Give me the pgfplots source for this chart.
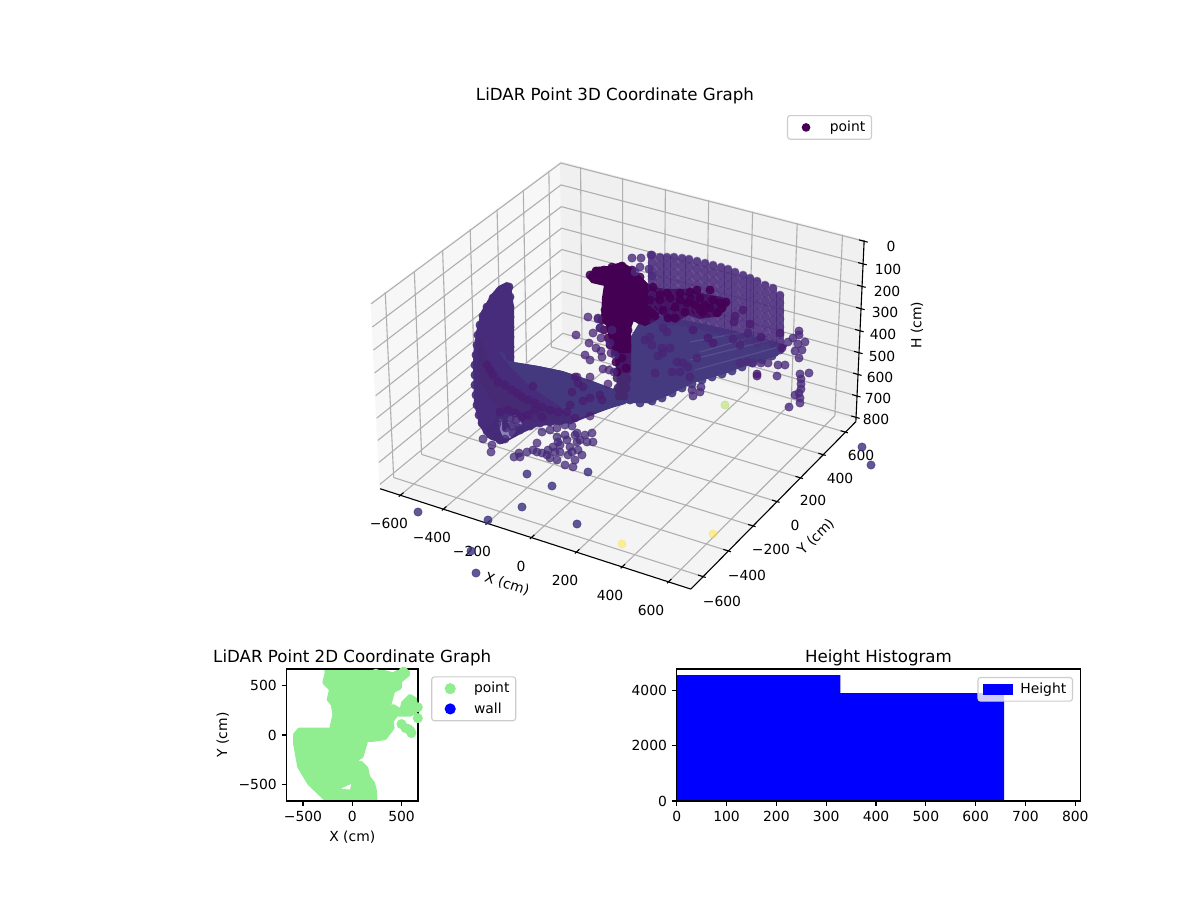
\documentclass[border=0pt]{standalone}
\usepackage{fontspec}
\setmainfont{DejaVu Sans}
\usepackage{pgfplots}
\pgfplotsset{compat=1.18}
% perspective of the 3D box: X, Y, H in cm -> position in the picture
\pgfmathdeclarefunction{pD}{3}{\pgfmathparse{10-(.3707*#1-.642*#2+.432*(400-#3))/1000}}
\pgfmathdeclarefunction{projx}{3}{\pgfmathparse{622.4+(2.2083*#1+1.275*#2)/pD(#1,#2,#3)}}
\pgfmathdeclarefunction{projy}{3}{\pgfmathparse{362.6-(-.6375*#1+1.104*#2+2.2289*(400-#3))/pD(#1,#2,#3)}}
\newcommand\seg[7]{\addplot[forget plot,#7] table[row sep=\\,x expr={projx(\thisrow{X},\thisrow{Y},\thisrow{Z})},y expr={projy(\thisrow{X},\thisrow{Y},\thisrow{Z})}] {X Y Z\\ #1 #2 #3\\ #4 #5 #6\\};}
\newcommand\pane[1]{\addplot[forget plot,#1] table[row sep=\\,x expr={projx(\thisrow{X},\thisrow{Y},\thisrow{Z})},y expr={projy(\thisrow{X},\thisrow{Y},\thisrow{Z})}]}
\newcommand\col[3]{\addplot[forget plot,vwall,opacity=.8,line width=.074in,line cap=round] coordinates {(#1,#2)(#1,#3)};}
\definecolor{gridc}{HTML}{B0B0B0}
\definecolor{lg}{HTML}{90EE90}
\definecolor{vtop}{HTML}{440154}
\definecolor{vwall}{HTML}{4B2C7C}
\definecolor{vout}{HTML}{38307C}
\definecolor{vlow}{HTML}{452A78}
\definecolor{vdark}{HTML}{4A1C72}
\definecolor{vup}{HTML}{482576}
\definecolor{vfan}{HTML}{45397F}
\definecolor{vyel}{HTML}{FDE725}
\definecolor{vgrn}{HTML}{A0DA39}
\definecolor{vwing}{HTML}{462C7A}
\definecolor{vband}{HTML}{44397F}
\definecolor{vsh}{HTML}{462A74}
\definecolor{vtow}{HTML}{46186A}
\definecolor{vtowb}{HTML}{46286F}
\definecolor{vlite}{HTML}{8C82B8}
\pgfplotsset{pts/.style 2 args={only marks,mark=*,mark size=3pt,forget plot,color=#1,mark options={solid,fill=#1,draw=#1,opacity=#2}},
 blob/.style={forget plot,fill=#1,draw=#1,line width=1.5pt,line join=round,mark=none},
 leg/.style={legend style={draw=black!20,rounded corners=2pt,fill=white,fill opacity=.8,text opacity=1,font=\fontsize{10.04}{12}\selectfont,line width=.8pt,inner xsep=2.5pt,inner ysep=2pt,row sep=1.5pt},legend cell align=left},
 dotimg/.style 2 args={legend image code/.code={\fill[#1,fill opacity=1,sharp corners] (.145in,0) circle (#2);\path (0,0) (.35in,0);}},
 num/.style={/pgf/number format/.cd,assume math mode=true,1000 sep={}}}
\begin{document}
\fontsize{10.04}{12}\selectfont
\begin{tikzpicture}
\path (0,0) rectangle (12in,9in);
\begin{axis}[at={(0,0)},anchor=south west,width=12in,height=9in,scale only axis,xmin=0,xmax=1200,ymin=0,ymax=900,y dir=reverse,axis lines=none,clip=false]
% panes
\pane{fill=black!3,draw=black!3,line width=1pt}{X Y Z\\ -695 -695 820\\ -695 695 820\\ -695 695 -4\\ -695 -695 -4\\ -695 -695 820\\};
\pane{fill=black!6,draw=black!6,line width=1pt}{X Y Z\\ -695 695 820\\ 695 695 820\\ 695 695 -4\\ -695 695 -4\\ -695 695 820\\};
\pane{fill=black!4.5,draw=black!4.5,line width=1pt}{X Y Z\\ -695 -695 820\\ 695 -695 820\\ 695 695 820\\ -695 695 820\\ -695 -695 820\\};
% grid
\pgfplotsinvokeforeach{-600,-400,-200,0,200,400,600}{
 \seg{#1}{-695}{820}{#1}{695}{820}{color=gridc,line width=.8pt}
 \seg{#1}{695}{820}{#1}{695}{-4}{color=gridc,line width=.8pt}
 \seg{695}{#1}{820}{-695}{#1}{820}{color=gridc,line width=.8pt}
 \seg{-695}{#1}{820}{-695}{#1}{-4}{color=gridc,line width=.8pt}
 \seg{#1}{-706}{820}{#1}{-673}{820}{color=black,line width=.8pt}
 \seg{673}{#1}{820}{706}{#1}{820}{color=black,line width=.8pt}
}
\pgfplotsinvokeforeach{0,100,200,300,400,500,600,700,800}{
 \seg{-695}{-695}{#1}{-695}{695}{#1}{color=gridc,line width=.8pt}
 \seg{-695}{695}{#1}{695}{695}{#1}{color=gridc,line width=.8pt}
 \seg{673}{695}{#1}{711}{695}{#1}{color=black,line width=.8pt}
}
% axis lines
\seg{-695}{-695}{820}{695}{-695}{820}{color=black,line width=.8pt}
\seg{695}{-695}{820}{695}{695}{820}{color=black,line width=.8pt}
\seg{695}{695}{820}{695}{695}{-4}{color=black,line width=.8pt}
% tick labels and axis names
\node at (axis cs:389,523) {−600};\node at (axis cs:432,537) {−400};\node at (axis cs:472,551) {−200};
\node at (axis cs:521,566) {0};\node at (axis cs:565,580) {200};\node at (axis cs:610,595) {400};\node at (axis cs:651,610) {600};
\node at (axis cs:722,601) {−600};\node at (axis cs:747,575) {−400};\node at (axis cs:771,549) {−200};
\node at (axis cs:795,525) {0};\node at (axis cs:813,500) {200};\node at (axis cs:840,478) {400};\node at (axis cs:861,455) {600};
\node at (axis cs:891,246) {0};\node at (axis cs:888,269) {100};\node at (axis cs:887,291) {200};\node at (axis cs:885,312) {300};\node at (axis cs:883,334) {400};
\node at (axis cs:882,356) {500};\node at (axis cs:880,377) {600};\node at (axis cs:878,398) {700};\node at (axis cs:876,419) {800};
\node[rotate=-18] at (axis cs:507,584) {X (cm)};
\node[rotate=45] at (axis cs:816,537) {Y (cm)};
\node[rotate=90] at (axis cs:917,325) {H (cm)};
\node at (axis cs:615,96) {\fontsize{12.05}{14}\selectfont LiDAR Point 3D Coordinate Graph};
% wall of columns on the right
\col{652}{255}{325}\col{660}{257}{325}\col{667}{257}{325}\col{674}{257}{325}\col{682}{258}{327}\col{689}{259}{328}\col{697}{261}{330}\col{705}{263}{332}\col{713}{265}{334}\col{721}{267}{336}\col{728}{269}{338}\col{735}{272}{340}\col{743}{275}{342}\col{750}{278}{344}\col{757}{281}{346}\col{765}{285}{348}\col{773}{288}{350}\col{780}{295}{345}
\addplot[pts={vwall}{.45}] coordinates {
(652,255)(652,263)(652,271)(652,279)(652,287)(652,295)(652,303)(652,311)(652,319)
(660,257)(660,265)(660,273)(660,281)(660,289)(660,297)(660,305)(660,313)(660,321)
(667,257)(667,265)(667,273)(667,281)(667,289)(667,297)(667,305)(667,313)(667,321)
(674,257)(674,265)(674,273)(674,281)(674,289)(674,297)(674,305)(674,313)(674,321)
(682,258)(682,266)(682,274)(682,282)(682,290)(682,298)(682,306)(682,314)(682,322)
(689,259)(689,267)(689,275)(689,283)(689,291)(689,299)(689,307)(689,315)(689,323)
(697,261)(697,269)(697,277)(697,285)(697,293)(697,301)(697,309)(697,317)(697,325)
(705,263)(705,271)(705,279)(705,287)(705,295)(705,303)(705,311)(705,319)(705,327)
(713,265)(713,273)(713,281)(713,289)(713,297)(713,305)(713,313)(713,321)(713,329)
(721,267)(721,275)(721,283)(721,291)(721,299)(721,307)(721,315)(721,323)(721,331)
(728,269)(728,277)(728,285)(728,293)(728,301)(728,309)(728,317)(728,325)(728,333)
(735,272)(735,280)(735,288)(735,296)(735,304)(735,312)(735,320)(735,328)(735,335)
(743,275)(743,283)(743,291)(743,299)(743,307)(743,315)(743,323)(743,331)(743,338)
(750,278)(750,286)(750,294)(750,302)(750,310)(750,318)(750,326)(750,334)(750,340)
(757,281)(757,289)(757,297)(757,305)(757,313)(757,321)(757,329)(757,337)(757,343)
(765,285)(765,293)(765,301)(765,309)(765,317)(765,325)(765,333)(765,340)
(773,288)(773,296)(773,304)(773,312)(773,320)(773,328)(773,336)(773,343)
(780,295)(780,303)(780,311)(780,319)(780,327)(780,335)(780,342)};
% fan on the floor
\addplot[blob=vfan] coordinates {(620,402)(650,402)(667,395)(693,382)(727,372)(753,362)(777,355)(786,346)(760,338)(735,332)(700,324)(665,318)(645,315)(630,340)(620,380)(620,402)};
\addplot[forget plot,white,opacity=.1,line width=.9pt] coordinates {(690,360)(778,338)};
\addplot[forget plot,white,opacity=.1,line width=.9pt] coordinates {(700,352)(770,332)};
\addplot[forget plot,white,opacity=.1,line width=.9pt] coordinates {(695,370)(782,346)};
\addplot[forget plot,white,opacity=.1,line width=.9pt] coordinates {(690,342)(755,330)};
\addplot[pts={vfan}{.9}] coordinates {(630,400)(640,403)(652,401)(662,398)(672,393)(682,388)(692,384)(702,380)(712,377)(722,374)(732,371)(742,367)(752,363)(762,360)(772,356)(780,350)};
% wing
\addplot[blob=vwing] coordinates {(507,283)(499,287)(492,295)(482,312)(477,332)(474,362)(475,402)(480,425)(488,437)(502,443)(522,432)(538,425)(562,423)(575,421)(600,411)(622,403)(630,380)(613,390)(592,382)(562,372)(538,367)(513,363)(513,308)(510,285)(507,283)};
\addplot[pts={vwing}{.9}] coordinates {(507,287)(500,291)(493,298)(487,307)(483,316)(480,325)(478,335)(477,345)(476,355)(475,365)(475,375)(475,385)(476,395)(477,405)(479,415)(482,423)(487,431)(493,436)(500,440)(509,287)(510,297)(510,307)(510,317)(510,327)(510,337)(510,347)(510,357)(520,430)(530,426)(540,423)(550,422)(560,421)(570,420)};
\addplot[blob=vband] coordinates {(500,352)(513,363)(538,367)(562,372)(592,382)(613,390)(625,385)(625,403)(600,410)(575,418)(560,405)(530,385)(510,365)(500,352)};
\addplot[blob=vsh] coordinates {(480,340)(490,368)(512,390)(540,406)(570,420)(545,424)(515,415)(492,400)(478,375)(480,340)};
\addplot[blob=vlite] coordinates {(499,420)(515,416)(521,424)(510,437)(503,437)(499,420)};
\addplot[blob=vlow] coordinates {(503,422)(506,418)(508,425)(504,430)(503,422)};
\addplot[pts={vlow}{.75}] coordinates {(504,416)(510,418)(516,420)(519,428)(513,433)(505,439)(498,436)(491,430)(497,424)(500,418)(512,426)(506,428)};
% tower and dark band
\addplot[blob=vtowb] coordinates {(618,370)(628,370)(627,385)(625,398)(617,398)(618,370)};
\addplot[pts={vtowb}{.9}] coordinates {(617,378)(627,378)(618,388)(626,388)(619,396)(624,396)};
\addplot[blob=vtow] coordinates {(615,345)(630,345)(630,372)(617,372)(615,345)};
\addplot[blob=vtop] coordinates {(588,277)(595,268)(608,267)(622,263)(630,268)(638,275)(650,287)(665,290)(688,290)(705,295)(722,298)(728,304)(720,315)(700,318)(688,314)(675,322)(658,312)(655,320)(645,325)(633,320)(630,328)(630,352)(614,352)(610,338)(607,325)(602,320)(603,298)(605,285)(592,282)(588,277)};
\addplot[pts={vtop}{.88}] coordinates {(653,287)(667,293)(680,293)(690,292)(700,298)(710,290)(713,300)(687,303)(675,307)(660,300)(652,313)(647,318)(640,320)(663,310)(602,320)(604,330)(608,338)(610,345)(615,352)(616,362)(617,372)(590,275)(596,271)(604,270)(612,267)(622,266)(632,270)(640,277)(703,313)(717,313)(722,308)(726,302)(697,290)(705,305)(640,295)(650,300)(660,295)(670,298)(680,300)(690,300)(695,305)(700,310)(710,308)(720,303)(640,310)(630,315)(648,310)(655,316)(668,318)(675,318)(685,312)(610,300)(605,310)(622,325)(628,330)(620,340)(612,330)(627,345)(622,358)(626,368)};
\addplot[pts={vdark}{.8}] coordinates {(743,310)(735,316)(734,322)(750,324)(693,330)(708,338)(713,343)(761,337)(780,333)(782,348)(757,374)(757,376)};
% marks in front of the fan
\addplot[pts={vup}{.8}] coordinates {(650,337)(645,340)(652,345)(667,332)(663,328)(662,348)(670,348)(663,353)(658,356)(697,358)(677,362)(683,363)(655,373)(688,367)(672,372)(680,372)(690,377)(733,339)(740,345)(748,333)};
% marks round the tower
\addplot[pts={vup}{.75}] coordinates {(588,317)(576,335)(593,333)(601,338)(589,343)(596,348)(610,343)(601,351)(585,355)(590,360)(602,357)(611,353)(603,369)(609,370)(577,377)(590,377)(608,384)(598,318)(600,328)(612,330)(615,355)(614,372)(598,319)(600,328)};
\addplot[pts={vwall}{.8}] coordinates {(632,258)(641,258)(651,255)(640,267)(649,269)(652,276)(635,272)};
% dark row on the wing
\addplot[pts={vdark}{.7}] coordinates {(533,386)(505,385)(512,390)(517,393)(522,397)(528,400)(535,403)(542,407)(550,410)(558,412)(567,412)(575,418)(500,412)(508,410)(515,413)(522,417)(528,415)(535,410)(542,417)(498,382)(493,375)(490,370)(487,365)(578,383)(575,377)(572,392)(583,387)(600,395)(602,400)(590,416)(583,401)(590,398)(570,405)};
% low cluster
\addplot[pts={vlow}{.75}] coordinates {(514,457)(519,453)(520,457)(527,452)(533,450)(537,443)(537,452)(542,453)(548,450)(550,458)(553,447)(557,460)(557,437)(558,442)(560,452)(565,465)(567,440)(568,455)(570,447)(573,467)(575,460)(577,433)(577,442)(578,450)(582,455)(585,435)(587,442)(592,433)(593,442)(542,432)(550,430)(557,428)(565,425)(572,426)(560,445)(565,435)(572,452)(580,440)(575,435)(555,452)(547,455)};
% right tail
\addplot[pts={vwall}{.8}] coordinates {(799,331)(799,335)(793,338)(788,342)(798,344)(805,342)(795,351)(802,350)(799,358)(778,365)(785,365)(777,376)(768,363)(761,363)(753,363)(809,373)(800,374)(801,379)(801,384)(801,389)(799,393)(795,395)(800,398)(800,403)(789,407)(701,387)(700,392)(692,390)(693,396)(747,362)(740,363)};
% isolated points
\addplot[pts={vout}{.8}] coordinates {(418,512)(488,520)(471,551)(476,573)(522,507)(552,486)(527,474)(577,524)(588,472)(862,447)(871,465)};
\addplot[pts={vlow}{.75}] coordinates {(483,439)(492,445)(491,452)};
\addplot[pts={vyel}{.42}] coordinates {(622,544)(713,534)};
\addplot[pts={vgrn}{.42}] coordinates {(725,405)};
\end{axis}
% legend of the 3D panel
\begin{axis}[at={(0,0)},anchor=south west,width=12in,height=9in,scale only axis,xmin=0,xmax=1200,ymin=0,ymax=900,axis lines=none,clip=false,leg,
 legend style={at={(.6558,.8722)},anchor=north west}]
\addlegendimage{dotimg={vtop}{2.7pt}}
\addlegendentry{point}
\end{axis}
% 2D panel
\begin{axis}[at={(2.865in,.99in)},anchor=south west,width=1.315in,height=1.32in,scale only axis,xmin=-667,xmax=667,ymin=-667,ymax=667,axis on top,
 xtick={-500,0,500},xticklabels={−500,0,500},ytick={-500,0,500},yticklabels={−500,0,500},
 tick align=outside,xtick pos=bottom,ytick pos=left,major tick length=3.5pt,tick style={black,line width=.8pt},axis line style={line width=.8pt},
 xlabel={X (cm)},ylabel={Y (cm)},title={\fontsize{12.05}{14}\selectfont LiDAR Point 2D Coordinate Graph},title style={yshift=-7pt},leg,
 legend style={at={(1.10,.945)},anchor=north west}]
\addplot[forget plot,fill=lg,draw=lg,line width=3pt,line join=round,mark=none] coordinates {(-265,673)(-130,650)(41,665)(211,665)(416,612)(483,650)(565,640)(565,610)(483,544)(483,480)(415,445)(381,326)(313,224)(415,292)(500,241)(517,326)(585,394)(670,340)(670,241)(585,207)(449,207)(398,139)(408,71)(330,-31)(211,-48)(143,-48)(109,-167)(92,-218)(41,-245)(7,-269)(92,-286)(143,-337)(160,-422)(211,-490)(228,-558)(235,-667)(-248,-667)(-435,-490)(-537,-320)(-580,-82)(-580,3)(-537,54)(-214,54)(-180,207)(-197,309)(-238,360)(-214,462)(-282,530)(-258,630)(-265,673)};
\addplot[forget plot,fill=white,draw=white] coordinates {(-15,-500)(-100,-540)(-25,-548)(-15,-500)};
\addplot[forget plot,only marks,mark=*,mark size=3.4pt,color=lg] coordinates {(500,110)(570,60)(540,70)(590,40)(665,170)(670,70)(590,300)(560,290)(540,290)(665,280)(610,340)(520,640)(240,620)(600,20)};
\addlegendimage{dotimg={lg}{3.6pt}}
\addlegendentry{point}
\addlegendimage{dotimg={blue}{3.6pt}}
\addlegendentry{wall}
\end{axis}
% histogram
\begin{axis}[at={(6.767in,.99in)},anchor=south west,width=4.036in,height=1.32in,scale only axis,xmin=0,xmax=810,ymin=0,ymax=4790,axis on top,num,
 xtick={0,100,...,800},ytick={0,2000,4000},
 tick align=outside,xtick pos=bottom,ytick pos=left,major tick length=3.5pt,tick style={black,line width=.8pt},axis line style={line width=.8pt},
 title={\fontsize{12.05}{14}\selectfont Height Histogram},title style={yshift=-7pt},leg,
 legend style={at={(.982,.94)},anchor=north east}]
\addplot[ybar interval,fill=blue,draw=none,forget plot] coordinates {(0,4570)(328.5,3917)(657,0)};
\addlegendimage{legend image code/.code={\fill[blue,fill opacity=1,sharp corners] (.02in,-.05in) rectangle (.30in,.05in);\path (0,0) (.35in,0);}}
\addlegendentry{Height}
\end{axis}
\end{tikzpicture}
\end{document}
